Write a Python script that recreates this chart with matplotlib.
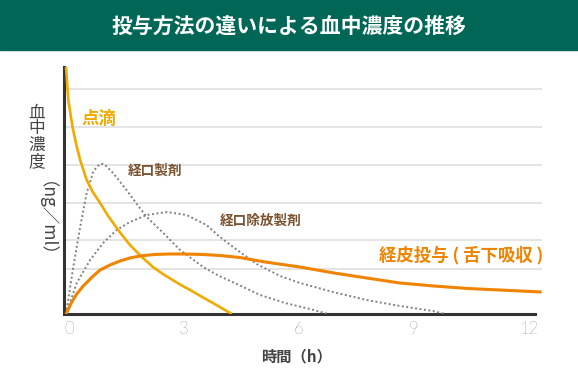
import matplotlib
matplotlib.use("Agg")
import matplotlib.pyplot as plt
from matplotlib.patches import Rectangle
from matplotlib.transforms import ScaledTranslation

plt.rcParams['font.family'] = ['Noto Sans CJK JP', 'DejaVu Sans']

# ---- data ----
title = "投与方法の違いによる血中濃度の推移"
x_ticks = [0, 3, 6, 9, 12]
x_tick_labels = ["0", "3", "6", "9", "12"]
grid_levels = [45, 74, 111, 149, 187, 225]

drip_t = [0, 0.06, 0.17, 0.27, 0.37, 0.54, 0.7, 0.89, 1.1, 1.4, 1.67, 1.98, 2.27, 2.53,
          2.72, 3.0, 3.24, 3.58, 3.95, 4.33]
drip_c = [247, 214, 187, 169, 154, 134, 122, 111, 98, 82, 69, 57, 47, 40,
          35.5, 29, 24, 16.5, 8.5, 0]

oral_t = [0, 0.19, 0.37, 0.54, 0.71, 0.8, 0.89, 0.97, 1.05, 1.23, 1.58, 1.85, 2.11, 2.54,
          2.98, 3.19, 3.58, 4.0, 4.46, 5.07, 5.72, 6.37, 6.85]
oral_c = [0, 47, 87, 121, 142, 147, 150, 150, 148, 141, 124, 110, 97, 81,
          64, 58, 47, 38, 30, 19, 11, 5, 0]

sust_t = [0, 0.28, 0.63, 0.97, 1.32, 1.67, 2.11, 2.63, 3.15, 3.67, 4.02, 4.54, 4.98, 5.59,
          6.11, 6.5, 6.97, 7.85, 8.72, 9.58, 9.9]
sust_c = [0, 31, 54, 71, 84, 92, 99, 102, 99, 89, 77, 62, 50, 38,
          31, 27, 22, 14, 8, 3, 0]

trans_t = [0, 0.15, 0.28, 0.45, 0.71, 0.89, 1.15, 1.41, 1.67, 1.93, 2.3, 2.7, 3.1, 3.58,
           4.02, 4.54, 5.2, 6.11, 7.0, 7.85, 8.72, 9.6, 10.5, 11.33, 12.42]
trans_c = [0, 12, 20, 28, 38, 44, 49, 53, 56, 58, 59.5, 60, 60, 59.5,
           58.5, 56.5, 52, 47, 41, 36, 31, 28, 25.5, 24, 22]

# ---- figure ----
W, H = 578, 376
fig = plt.figure(figsize=(W / 100, H / 100), dpi=100)

# title bar
fig.add_artist(Rectangle((0, 1 - 50 / H), 1, 50 / H, transform=fig.transFigure,
                         color='#006655', zorder=0))
fig.text(0.5, 1 - 26 / H, title, color='white', fontsize=15, fontweight='bold',
         ha='center', va='center')

ax = fig.add_axes([64 / W, 62 / H, (542 - 64) / W, 247 / H])
x0 = -2 / 38.3
ax.set_xlim(x0, 12.43)
ax.set_ylim(0, 247)

for s in ['top', 'right']:
    ax.spines[s].set_visible(False)
for s in ['left', 'bottom']:
    ax.spines[s].set_color('#333333')
    ax.spines[s].set_linewidth(2.2)
ax.spines['bottom'].set_bounds(x0, 12.25)

ax.set_yticks(grid_levels)
ax.set_yticklabels([])
ax.tick_params(axis='y', length=0)
ax.yaxis.grid(True, color='#e2e2e2', linewidth=1.3)
ax.set_axisbelow(True)

ax.set_xticks(x_ticks)
ax.set_xticklabels(x_tick_labels, fontsize=12, color='#3a3a3a',
                   family=['Lato', 'DejaVu Sans'], fontweight='light')
ax.tick_params(axis='x', length=0, pad=5)
off = ScaledTranslation(3 / 100, 0, fig.dpi_scale_trans)
for lab in ax.get_xticklabels():
    lab.set_transform(lab.get_transform() + off)

# curves
ax.plot(oral_t, oral_c, color='#808080', lw=1.4, ls=(0, (1, 1.3)), zorder=3)
ax.plot(sust_t, sust_c, color='#808080', lw=1.4, ls=(0, (1, 1.3)), zorder=3)
ax.plot(drip_t, drip_c, color='#f0aa00', lw=1.9, zorder=4, solid_capstyle='butt')
ax.plot(trans_t, trans_c, color='#f08300', lw=2.2, zorder=5, solid_capstyle='butt')

# curve labels
def px(x, y):
    return (x / W, 1 - y / H)

fig.text(*px(82, 119), "点滴", color='#f0aa00', fontsize=12.5, fontweight='bold',
         ha='left', va='center')
fig.text(*px(128, 171), "経口製剤", color='#7a5230', fontsize=9.8, fontweight='bold',
         ha='left', va='center')
fig.text(*px(220, 221), "経口除放製剤", color='#7a5230', fontsize=9.8, fontweight='bold',
         ha='left', va='center')
fig.text(*px(543, 255), "経皮投与 ( 舌下吸収 )", color='#f08300', fontsize=12.5,
         fontweight='bold', ha='right', va='center')

# y label (vertical)
for ch, yy in zip("血中濃度", [113, 129, 145, 162]):
    fig.text(*px(37, yy), ch, color='#444444', fontsize=12, ha='center', va='center')
fig.text(*px(37, 228), "（ng／ml）", color='#444444', fontsize=12.5, rotation=270,
         ha='center', va='center')

# x label
fig.text(*px(297, 356), "時間（h）", color='#444444', fontsize=11, fontweight='bold',
         ha='center', va='center')

fig.savefig("out.png", dpi=100)
